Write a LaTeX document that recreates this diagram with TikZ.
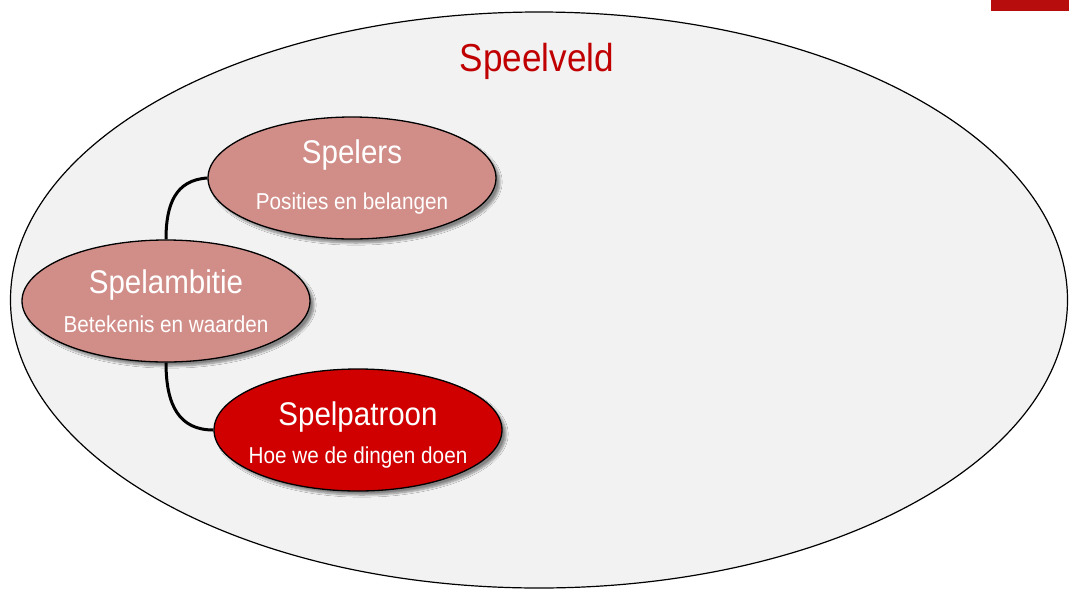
\documentclass[tikz,border=0pt]{standalone}
\usepackage{fontspec}
\setmainfont[FakeStretch=0.9]{Liberation Sans}
\usetikzlibrary{shapes.geometric,shadows.blur,calc}
\definecolor{fieldbg}{HTML}{F2F2F2}
\definecolor{pinkfill}{HTML}{D18E89}
\definecolor{redfill}{HTML}{D00000}
\definecolor{titlered}{HTML}{C00000}
\definecolor{barred}{HTML}{B70D0D}
\tikzset{
  bubble/.style={ellipse, draw=black, line width=1.3pt, minimum width=288pt, minimum height=122pt, inner sep=0pt,
    blur shadow={shadow xshift=4pt, shadow yshift=-4pt, shadow blur steps=8, shadow opacity=45}},
  pinkbubble/.style={bubble, fill=pinkfill},
  redbubble/.style={bubble, fill=redfill},
  titletext/.style={anchor=base, inner sep=0pt, text=white, font=\fontsize{32.8pt}{36pt}\selectfont},
  subtext/.style={anchor=base, inner sep=0pt, text=white, font=\fontsize{23pt}{26pt}\selectfont},
  link/.style={line width=3pt, draw=black}
}
\begin{document}
\begin{tikzpicture}[x=1pt,y=-1pt]
\useasboundingbox (0,0) rectangle (1069,590);
\fill[white] (0,0) rectangle (1069,590);
% playing field
\node[ellipse, draw=black, line width=1.2pt, fill=fieldbg, minimum width=1057pt, minimum height=576pt, inner sep=0pt] (field) at (539,300) {};
\node[anchor=base, inner sep=0pt, text=titlered, font=\fontsize{39pt}{42pt}\selectfont] (fieldtitle) at (537,71) {Speelveld};
% top-right bar
\fill[barred] (991,0) rectangle (1069,11);
% bubbles
\node[pinkbubble] (spelers) at (352,178) {};
\node[pinkbubble] (ambitie) at (166,301) {};
\node[redbubble] (patroon) at (358,430) {};
% connectors
\draw[link] (spelers.west) .. controls +(-32,2) and +(0,-35) .. (ambitie.north);
\draw[link] (ambitie.south) .. controls +(0,43) and +(-34,0) .. (patroon.west);
% texts
\node[titletext] (spelersT) at ($(spelers.center)+(0,-15)$) {Spelers};
\node[subtext] (spelersS) at ($(spelers.center)+(0,31)$) {Posities en belangen};
\node[titletext] (ambitieT) at ($(ambitie.center)+(0,-8)$) {Spelambitie};
\node[subtext] (ambitieS) at ($(ambitie.center)+(0,31)$) {Betekenis en waarden};
\node[titletext] (patroonT) at ($(patroon.center)+(0,-5)$) {Spelpatroon};
\node[subtext] (patroonS) at ($(patroon.center)+(0,33)$) {Hoe we de dingen doen};
\end{tikzpicture}
\end{document}
